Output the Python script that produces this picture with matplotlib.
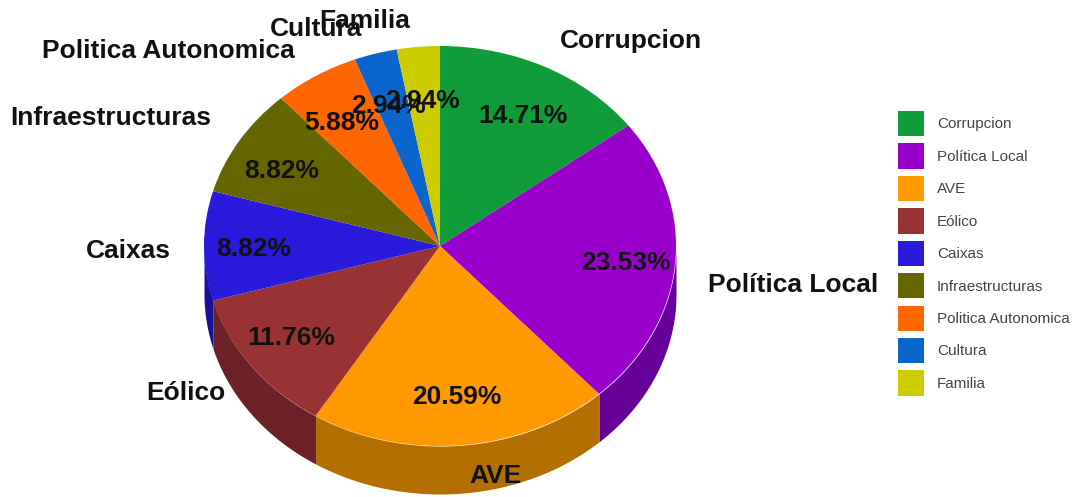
import matplotlib
matplotlib.use('Agg')
import matplotlib.pyplot as plt
import numpy as np

plt.rcParams['font.family'] = ['Liberation Sans', 'DejaVu Sans']

categories = ['Corrupcion', 'Política Local', 'AVE', 'Eólico', 'Caixas',
              'Infraestructuras', 'Politica Autonomica', 'Cultura', 'Familia']
values = [14.71, 23.53, 20.59, 11.76, 8.82, 8.82, 5.88, 2.94, 2.94]
top_colors = ['#109c39', '#9900cc', '#ff9900', '#993333', '#2a1adb',
              '#666600', '#ff6600', '#0a66cc', '#cccc00']
side_colors = ['#0b6e28', '#660099', '#b37000', '#6b2226', '#1a1199',
               '#474700', '#b34700', '#074790', '#8f8f00']

depth = 0.24  # height of the pie wall, in radius units

# small label shifts so they sit where the original has them
nudge_x = [0, 0, 0.02, 0, 0, 0, -0.015, -0.017, -0.021]
nudge_y = [-0.015, -0.01, 0.01, -0.035, -0.025, 0.03, -0.015, -0.035, -0.035]

fig = plt.figure(figsize=(10.74, 4.97), dpi=100)
ax = fig.add_axes([0, 0, 1, 1])

wedges, labels, pcts = ax.pie(values, labels=categories, colors=top_colors,
                              startangle=90, counterclock=False,
                              labeldistance=1.14, autopct='%.2f%%', pctdistance=0.79,
                              wedgeprops={'linewidth': 0, 'zorder': 3})

# side wall, only the part of each slice on the front half
for w, c in zip(wedges, side_colors):
    a1, a2 = w.theta1 % 360, w.theta2 % 360
    if a2 <= a1:
        a2 += 360
    for lo, hi in [(180, 360), (540, 720)]:
        s, e = max(a1, lo), min(a2, hi)
        if e > s:
            t = np.radians(np.linspace(s, e, 80))
            ax.fill_between(np.cos(t), np.sin(t) - depth, np.sin(t), color=c, lw=0, zorder=2)

labels[1].set_position((labels[1].get_position()[0], -0.185 / 1.02))
for t, dx, dy in zip(labels, nudge_x, nudge_y):
    x, y = t.get_position()
    t.set_position((x + dx, y * 1.02 + dy))
    t.set_fontsize(19)
    t.set_fontweight('bold')
    t.set_color('#111111')
    t.set_zorder(5)

for t in pcts:
    x, y = t.get_position()
    t.set_position((x, y * 0.94 - 0.015))
    t.set_fontsize(19)
    t.set_fontweight('bold')
    t.set_color('#111111')
    t.set_zorder(4)

ax.set_aspect('auto')
ax.set_xlim(-440 / 236, 634 / 236)
ax.set_ylim(-251 / 200, 246 / 200)
ax.axis('off')

fig.legend(wedges, categories, loc='upper left', bbox_to_anchor=(898 / 1074, 1 - 111 / 497),
           frameon=False, fontsize=11, borderpad=0, borderaxespad=0,
           handlelength=1.7, handleheight=2.18, handletextpad=0.85, labelspacing=0.46,
           labelcolor='#444444')

fig.savefig('out.png', dpi=100)
